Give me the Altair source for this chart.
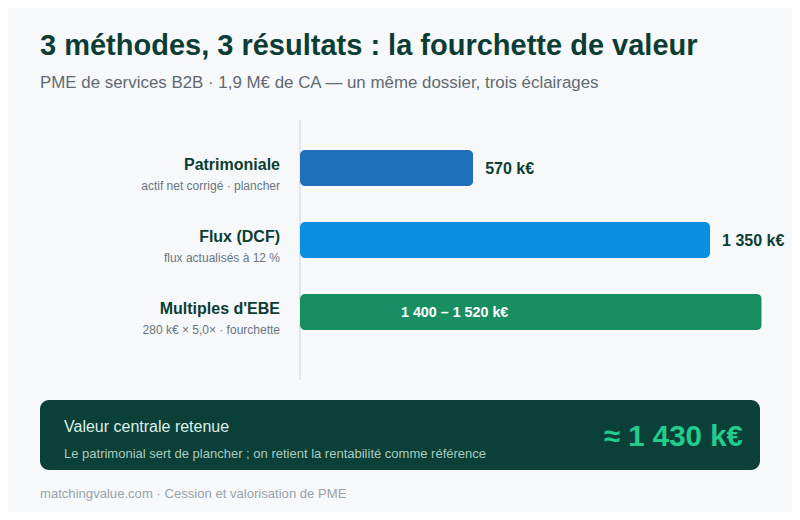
import altair as alt
import pandas as pd

# ---- data ----
methods = ["Patrimoniale", "Flux (DCF)", "Multiples d'EBE"]
notes = ["actif net corrigé · plancher", "flux actualisés à 12 %", "280 k€ × 5,0× · fourchette"]
low_values = [570, 1350, 1400]
high_values = [570, 1350, 1520]
value_labels = ["570 k€", "1 350 k€", "1 400 – 1 520 k€"]
inside_label = [False, False, True]
bar_colors = ["#1f6fba", "#0a8fe0", "#178f62"]

central_value = 1430
title_text = "3 méthodes, 3 résultats : la fourchette de valeur"
subtitle_text = "PME de services B2B · 1,9 M€ de CA — un même dossier, trois éclairages"
box_title = "Valeur centrale retenue"
box_note = "Le patrimonial sert de plancher ; on retient la rentabilité comme référence"
footer_text = "matchingvalue.com · Cession et valorisation de PME"

df = pd.DataFrame({
    "method": methods,
    "note": notes,
    "low": low_values,
    "high": high_values,
    "label": value_labels,
    "inside": inside_label,
})

FONT = "Liberation Sans"
DARK = "#0c3d34"
BG = "#f6f8fa"

xs = alt.Scale(domain=[0, 1600])
ys = alt.Scale(domain=methods, paddingInner=0.5, paddingOuter=0.25)
X = alt.X("high:Q", scale=xs, axis=None)
Y = alt.Y("method:N", scale=ys, sort=methods, axis=None)

base = alt.Chart(df)

bars = base.mark_bar(cornerRadius=5).encode(
    x=X,
    y=Y,
    color=alt.Color("method:N", scale=alt.Scale(domain=methods, range=bar_colors), legend=None),
)

out_labels = base.transform_filter("!datum.inside").mark_text(
    align="left", baseline="alphabetic", dx=12, dy=5.5, font=FONT, fontSize=16, fontWeight="bold", color=DARK
).encode(x=X, y=Y, text="label:N")

in_labels = base.transform_filter("datum.inside").mark_text(
    align="left", baseline="alphabetic", dx=101, dy=5, font=FONT, fontSize=14.3, fontWeight="bold", color="white"
).encode(x=alt.value(0), y=Y, text="label:N")

cat_labels = base.mark_text(
    align="right", baseline="alphabetic", dx=0, dy=2, font=FONT, fontSize=16, fontWeight="bold", color=DARK
).encode(x=alt.value(-20), y=Y, text="method:N")

note_labels = base.mark_text(
    align="right", baseline="alphabetic", dy=22, font=FONT, fontSize=12, color="#6b767e"
).encode(x=alt.value(-20), y=Y, text="note:N")

one = alt.Chart(pd.DataFrame({"t": [0]}))

axis_line = one.mark_rule(color="#dde2e6", strokeWidth=1.5).encode(
    x=alt.value(0), y=alt.value(-12), y2=alt.value(248)
)

title = one.mark_text(align="left", baseline="alphabetic", font=FONT, fontSize=29, fontWeight="bold", color=DARK).encode(
    x=alt.value(-260), y=alt.value(-77.5), text=alt.value(title_text)
)
subtitle = one.mark_text(align="left", baseline="alphabetic", font=FONT, fontSize=16.9, color="#5f6a72").encode(
    x=alt.value(-260), y=alt.value(-44), text=alt.value(subtitle_text)
)

box = one.mark_rect(color="#0b4038", cornerRadius=9).encode(
    x=alt.value(-260), x2=alt.value(460), y=alt.value(268), y2=alt.value(338)
)
box_t = one.mark_text(align="left", baseline="alphabetic", font=FONT, fontSize=16, color="#dcefe8").encode(
    x=alt.value(-236), y=alt.value(299.5), text=alt.value(box_title)
)
box_n = one.mark_text(align="left", baseline="alphabetic", font=FONT, fontSize=13, color="#a9cbbf").encode(
    x=alt.value(-236), y=alt.value(325.5), text=alt.value(box_note)
)
box_v = one.mark_text(align="right", baseline="alphabetic", font=FONT, fontSize=29.5, fontWeight="bold", color="#22cc8c").encode(
    x=alt.value(443), y=alt.value(313.5), text=alt.value("≈ " + f"{central_value:,}".replace(",", " ") + " k€")
)
footer = one.mark_text(align="left", baseline="alphabetic", font=FONT, fontSize=13.1, color="#9aa2a9").encode(
    x=alt.value(-260), y=alt.value(366), text=alt.value(footer_text)
)

chart = alt.layer(
    axis_line, bars, out_labels, in_labels, cat_labels, note_labels,
    title, subtitle, box, box_t, box_n, box_v, footer
).properties(
    width=486, height=216,
    autosize=alt.AutoSizeParams(type="none"),
    padding={"left": 292, "top": 124, "right": 6, "bottom": 164},
    background=BG,
).configure_view(strokeWidth=0)

chart.save("out.html", embed_options={"renderer": "svg", "actions": False})
